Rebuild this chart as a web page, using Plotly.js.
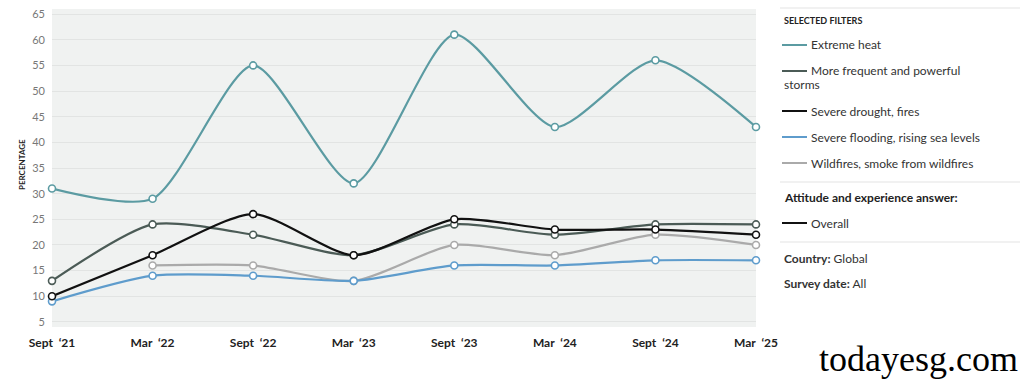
<!DOCTYPE html>
<html><head><meta charset="utf-8">
<script src="https://cdn.plot.ly/plotly-3.0.1.min.js"></script>
<style>html,body{margin:0;padding:0;background:#fff}#chart{width:1024px;height:379px}</style>
</head><body><div id="chart"></div>
<script>
const categories = ["Sept '21","Mar '22","Sept '22","Mar '23","Sept '23","Mar '24","Sept '24","Mar '25"];
const tickLabels = ["Sept\u00a0\u00a0\u201821","Mar\u00a0\u00a0\u201822","Sept\u00a0\u00a0\u201822","Mar\u00a0\u00a0\u201823","Sept\u00a0\u00a0\u201823","Mar\u00a0\u00a0\u201824","Sept\u00a0\u00a0\u201824","Mar\u00a0\u00a0\u201825"];
const extremeHeat = [31, 29, 55, 32, 61, 43, 56, 43];
const storms      = [13, 24, 22, 18, 24, 22, 24, 24];
const drought     = [10, 18, 26, 18, 25, 23, 23, 22];
const flooding    = [9, 14, 14, 13, 16, 16, 17, 17];
const wildfires   = [null, 16, 16, 13, 20, 18, 22, 20];
const seriesNames = ["Extreme heat","More frequent and powerful storms","Severe drought, fires","Severe flooding, rising sea levels","Wildfires, smoke from wildfires"];
const seriesColors = ["#5b9ba2","#4b5b56","#111111","#5e9ccc","#aaaaaa"];
const seriesData = [extremeHeat, storms, drought, flooding, wildfires];
const yTicks = [5,10,15,20,25,30,35,40,45,50,55,60,65];

const L=52, T=9, W=704, H=318;
const px = x => (x - L)/W;
const py = y => (T + H - y)/H;

const xIdx = categories.map((c,i)=>i);
const order = [4,3,1,2,0];
const traces = order.map(k => ({
  x: xIdx, y: seriesData[k], name: seriesNames[k], type:'scatter', mode:'lines+markers',
  line:{color:seriesColors[k], width:2.2, shape:'spline', smoothing:0.7},
  marker:{color:'#ffffff', size:7, line:{color:seriesColors[k], width:1.6}},
  cliponaxis:false, connectgaps:false, hoverinfo:'skip'
}));

const font = "Lato, 'Source Sans Pro', 'Noto Sans', sans-serif";
const ann = [];
const shapes = [];
function text(x,y,t,opt){ann.push(Object.assign({xref:'paper',yref:'paper',x:px(x),y:py(y),text:t,showarrow:false,xanchor:'left',yanchor:'middle',font:{family:font,size:12,color:'#333'}},opt||{}));}
function hline(x0,x1,y,color,w){shapes.push({type:'line',xref:'paper',yref:'paper',x0:px(x0),x1:px(x1),y0:py(y),y1:py(y),line:{color:color,width:w}});}

hline(780,1020,8,'#e3e3e3',1);
text(782,21,'<b>SELECTED FILTERS</b>',{font:{family:font,size:9,color:'#222'}});
const legY = [45,71,111,137,163];
seriesNames.forEach((n,i)=>{
  hline(782,807,legY[i],seriesColors[i],2);
  if(i===1){
    text(809,71,'More frequent and powerful');
    text(782,85,'storms');
  } else text(809,legY[i],n);
});
hline(780,1020,182,'#e3e3e3',1);
text(782,197,'<b>Attitude and experience answer:</b>',{font:{family:font,size:12,color:'#222'}});
hline(782,807,223,'#111111',2);
text(809,223,'Overall');
hline(780,1020,242,'#e3e3e3',1);
text(782,258,'<b>Country:</b> Global');
text(782,283,'<b>Survey date:</b> All');
text(78,165,'<b>PERCENTAGE</b>',{x:px(22),xanchor:'center',textangle:-90,font:{family:font,size:8,color:'#222'}});
ann.push({xref:'paper',yref:'paper',x:px(817),y:py(359),text:'todayesg.com',showarrow:false,xanchor:'left',yanchor:'middle',font:{family:"Liberation Serif, Times New Roman, serif",size:36,color:'#000'}});

const layout = {
  width:1024, height:379,
  margin:{l:L, t:T, r:1024-L-W, b:379-T-H, pad:0},
  paper_bgcolor:'#ffffff', plot_bgcolor:'#f0f2f1',
  showlegend:false,
  xaxis:{range:[0,7], tickvals:xIdx, ticktext:tickLabels, showgrid:false, zeroline:false, showline:false,
    ticks:'', tickfont:{family:font,size:12,color:'#222',weight:'bold'}, ticklabelstandoff:7, fixedrange:true},
  yaxis:{range:[4,66], tickvals:yTicks, showgrid:true, gridcolor:'#e2e4e3', gridwidth:1, zeroline:false, showline:false,
    ticks:'', tickfont:{family:font,size:11,color:'#777'}, ticklabelstandoff:6, fixedrange:true},
  annotations:ann, shapes:shapes
};
Plotly.newPlot('chart', traces, layout, {displayModeBar:false, staticPlot:true});
</script></body></html>
